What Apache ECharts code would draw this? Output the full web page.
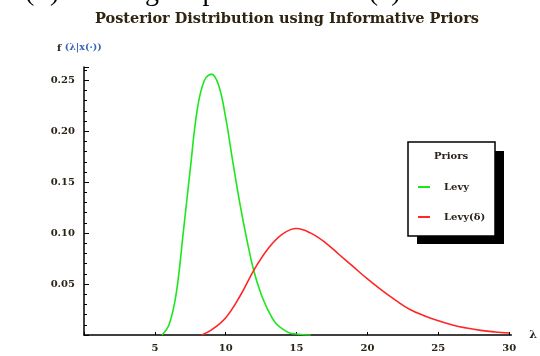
<!DOCTYPE html>
<html>
<head>
<meta charset="utf-8">
<script src="https://cdn.jsdelivr.net/npm/echarts@6/dist/echarts.min.js"></script>
<style>
html, body { margin: 0; padding: 0; background: #fff; }
#chart { width: 540px; height: 356px; }
</style>
</head>
<body>
<div id="chart"></div>
<script>
//*************** data ***************
var levyX = [5.5, 6.0, 6.5, 7.0, 7.5, 8.0, 8.5, 9.0, 9.5, 10.0, 10.5, 11.0, 11.5, 12.0, 12.5, 13.0, 13.5, 14.0, 14.5, 15.0, 15.5, 16.0];
var levyY = [0, 0.010, 0.040, 0.100, 0.163, 0.222, 0.250, 0.256, 0.245, 0.213, 0.170, 0.129, 0.093, 0.062, 0.040, 0.024, 0.012, 0.006, 0.002, 0.001, 0.0002, 0];
var levyDeltaX = [8.3, 9, 10, 11, 12, 13, 14, 15, 16, 17, 18, 19, 20, 21, 22, 23, 24, 25, 26, 27, 28, 29, 30];
var levyDeltaY = [0, 0.005, 0.017, 0.038, 0.064, 0.085, 0.099, 0.1045, 0.100, 0.091, 0.079, 0.067, 0.055, 0.044, 0.034, 0.025, 0.019, 0.014, 0.0098, 0.0068, 0.0045, 0.003, 0.002];
var seriesNames = ['Levy', 'Levy(\u03b4)'];
var titleText = 'Posterior Distribution using Informative Priors';

function zip(xs, ys) {
    var out = [];
    for (var i = 0; i < xs.length; i++) {
        out.push([xs[i], ys[i]]);
    }
    return out;
}

var serifFont = '"DejaVu Serif", "Liberation Serif", serif';
var timesFont = '"Liberation Serif", serif';
var labelColor = '#2b2418';

var chart = echarts.init(document.getElementById('chart'));

var option = {
    backgroundColor: '#ffffff',
    animation: false,
    grid: {
        left: 84,
        right: 28,
        top: 67,
        bottom: 21
    },
    xAxis: {
        type: 'value',
        min: 0,
        max: 30.15,
        interval: 5,
        name: '\u03bb',
        nameLocation: 'end',
        nameGap: 18,
        nameTextStyle: { fontFamily: serifFont, fontWeight: 'bold', fontSize: 11, color: labelColor },
        splitLine: { show: false },
        axisLine: { lineStyle: { color: '#000', width: 1.5 } },
        axisTick: { inside: true, length: 3, lineStyle: { color: '#000' } },
        axisLabel: {
            showMaxLabel: false,
            margin: 8,
            fontFamily: serifFont,
            fontWeight: 'bold',
            fontSize: 10,
            color: labelColor,
            formatter: function (v) { return v === 0 ? '' : String(v); }
        }
    },
    yAxis: {
        type: 'value',
        min: 0,
        max: 0.263,
        interval: 0.05,
        splitLine: { show: false },
        axisLine: { lineStyle: { color: '#000', width: 1.5 } },
        axisTick: { inside: true, length: 5, lineStyle: { color: '#000' } },
        minorTick: { show: true, splitNumber: 5, length: 3, lineStyle: { color: '#000' } },
        axisLabel: {
            showMaxLabel: false,
            margin: 9,
            fontFamily: serifFont,
            fontWeight: 'bold',
            fontSize: 10,
            color: labelColor,
            formatter: function (v) { return v === 0 ? '' : v.toFixed(2); }
        }
    },
    legend: {
        orient: 'vertical',
        left: 413,
        top: 177,
        z: 20,
        itemWidth: 12,
        itemHeight: 2,
        itemGap: 20,
        icon: 'rect',
        textStyle: {
            fontFamily: serifFont,
            fontWeight: 'bold',
            fontSize: 10,
            color: labelColor,
            padding: [0, 0, 0, 9]
        },
        data: seriesNames
    },
    graphic: [
        // top line of the page, mostly cut off
        {
            type: 'text',
            x: 25,
            y: 7,
            style: {
                text: '(ii)',
                font: '28px ' + timesFont,
                fill: '#000',
                verticalAlign: 'bottom'
            }
        },
        {
            type: 'text',
            x: 92,
            y: 7,
            style: {
                text: 'Using IG prior where IG(\u03b4) denote censored',
                font: '28px ' + timesFont,
                fill: '#000',
                verticalAlign: 'bottom'
            }
        },
        {
            type: 'text',
            left: 95,
            top: 12,
            style: {
                text: titleText,
                font: 'bold 14.5px ' + serifFont,
                fill: '#2e2410'
            }
        },
        {
            type: 'text',
            left: 57,
            top: 42,
            style: {
                text: '{f|f} {r|(\u03bb|x(\u00b7))}',
                rich: {
                    f: { font: 'bold 10px ' + serifFont, fill: '#2e2410' },
                    r: { font: 'bold 9.5px ' + serifFont, fill: '#3a64b8' }
                }
            }
        },
        // legend frame with its drop shadow
        {
            type: 'rect',
            shape: { x: 417, y: 151, width: 87, height: 93 },
            style: { fill: '#000' },
            z: 10
        },
        {
            type: 'rect',
            shape: { x: 408, y: 142, width: 87, height: 94 },
            style: { fill: '#fff', stroke: '#000', lineWidth: 1.5 },
            z: 11
        },
        {
            type: 'text',
            x: 451,
            y: 156,
            style: {
                text: 'Priors',
                font: 'bold 10px ' + serifFont,
                fill: labelColor,
                align: 'center',
                verticalAlign: 'middle'
            },
            z: 12
        }
    ],
    series: [
        {
            name: seriesNames[0],
            type: 'line',
            smooth: 0.4,
            showSymbol: false,
            data: zip(levyX, levyY),
            itemStyle: { color: '#1ee61e' },
            lineStyle: { color: '#1ee61e', width: 1.6 }
        },
        {
            name: seriesNames[1],
            type: 'line',
            smooth: 0.4,
            showSymbol: false,
            data: zip(levyDeltaX, levyDeltaY),
            itemStyle: { color: '#ff2626' },
            lineStyle: { color: '#ff2626', width: 1.6 }
        }
    ]
};

chart.setOption(option);
</script>
</body>
</html>
